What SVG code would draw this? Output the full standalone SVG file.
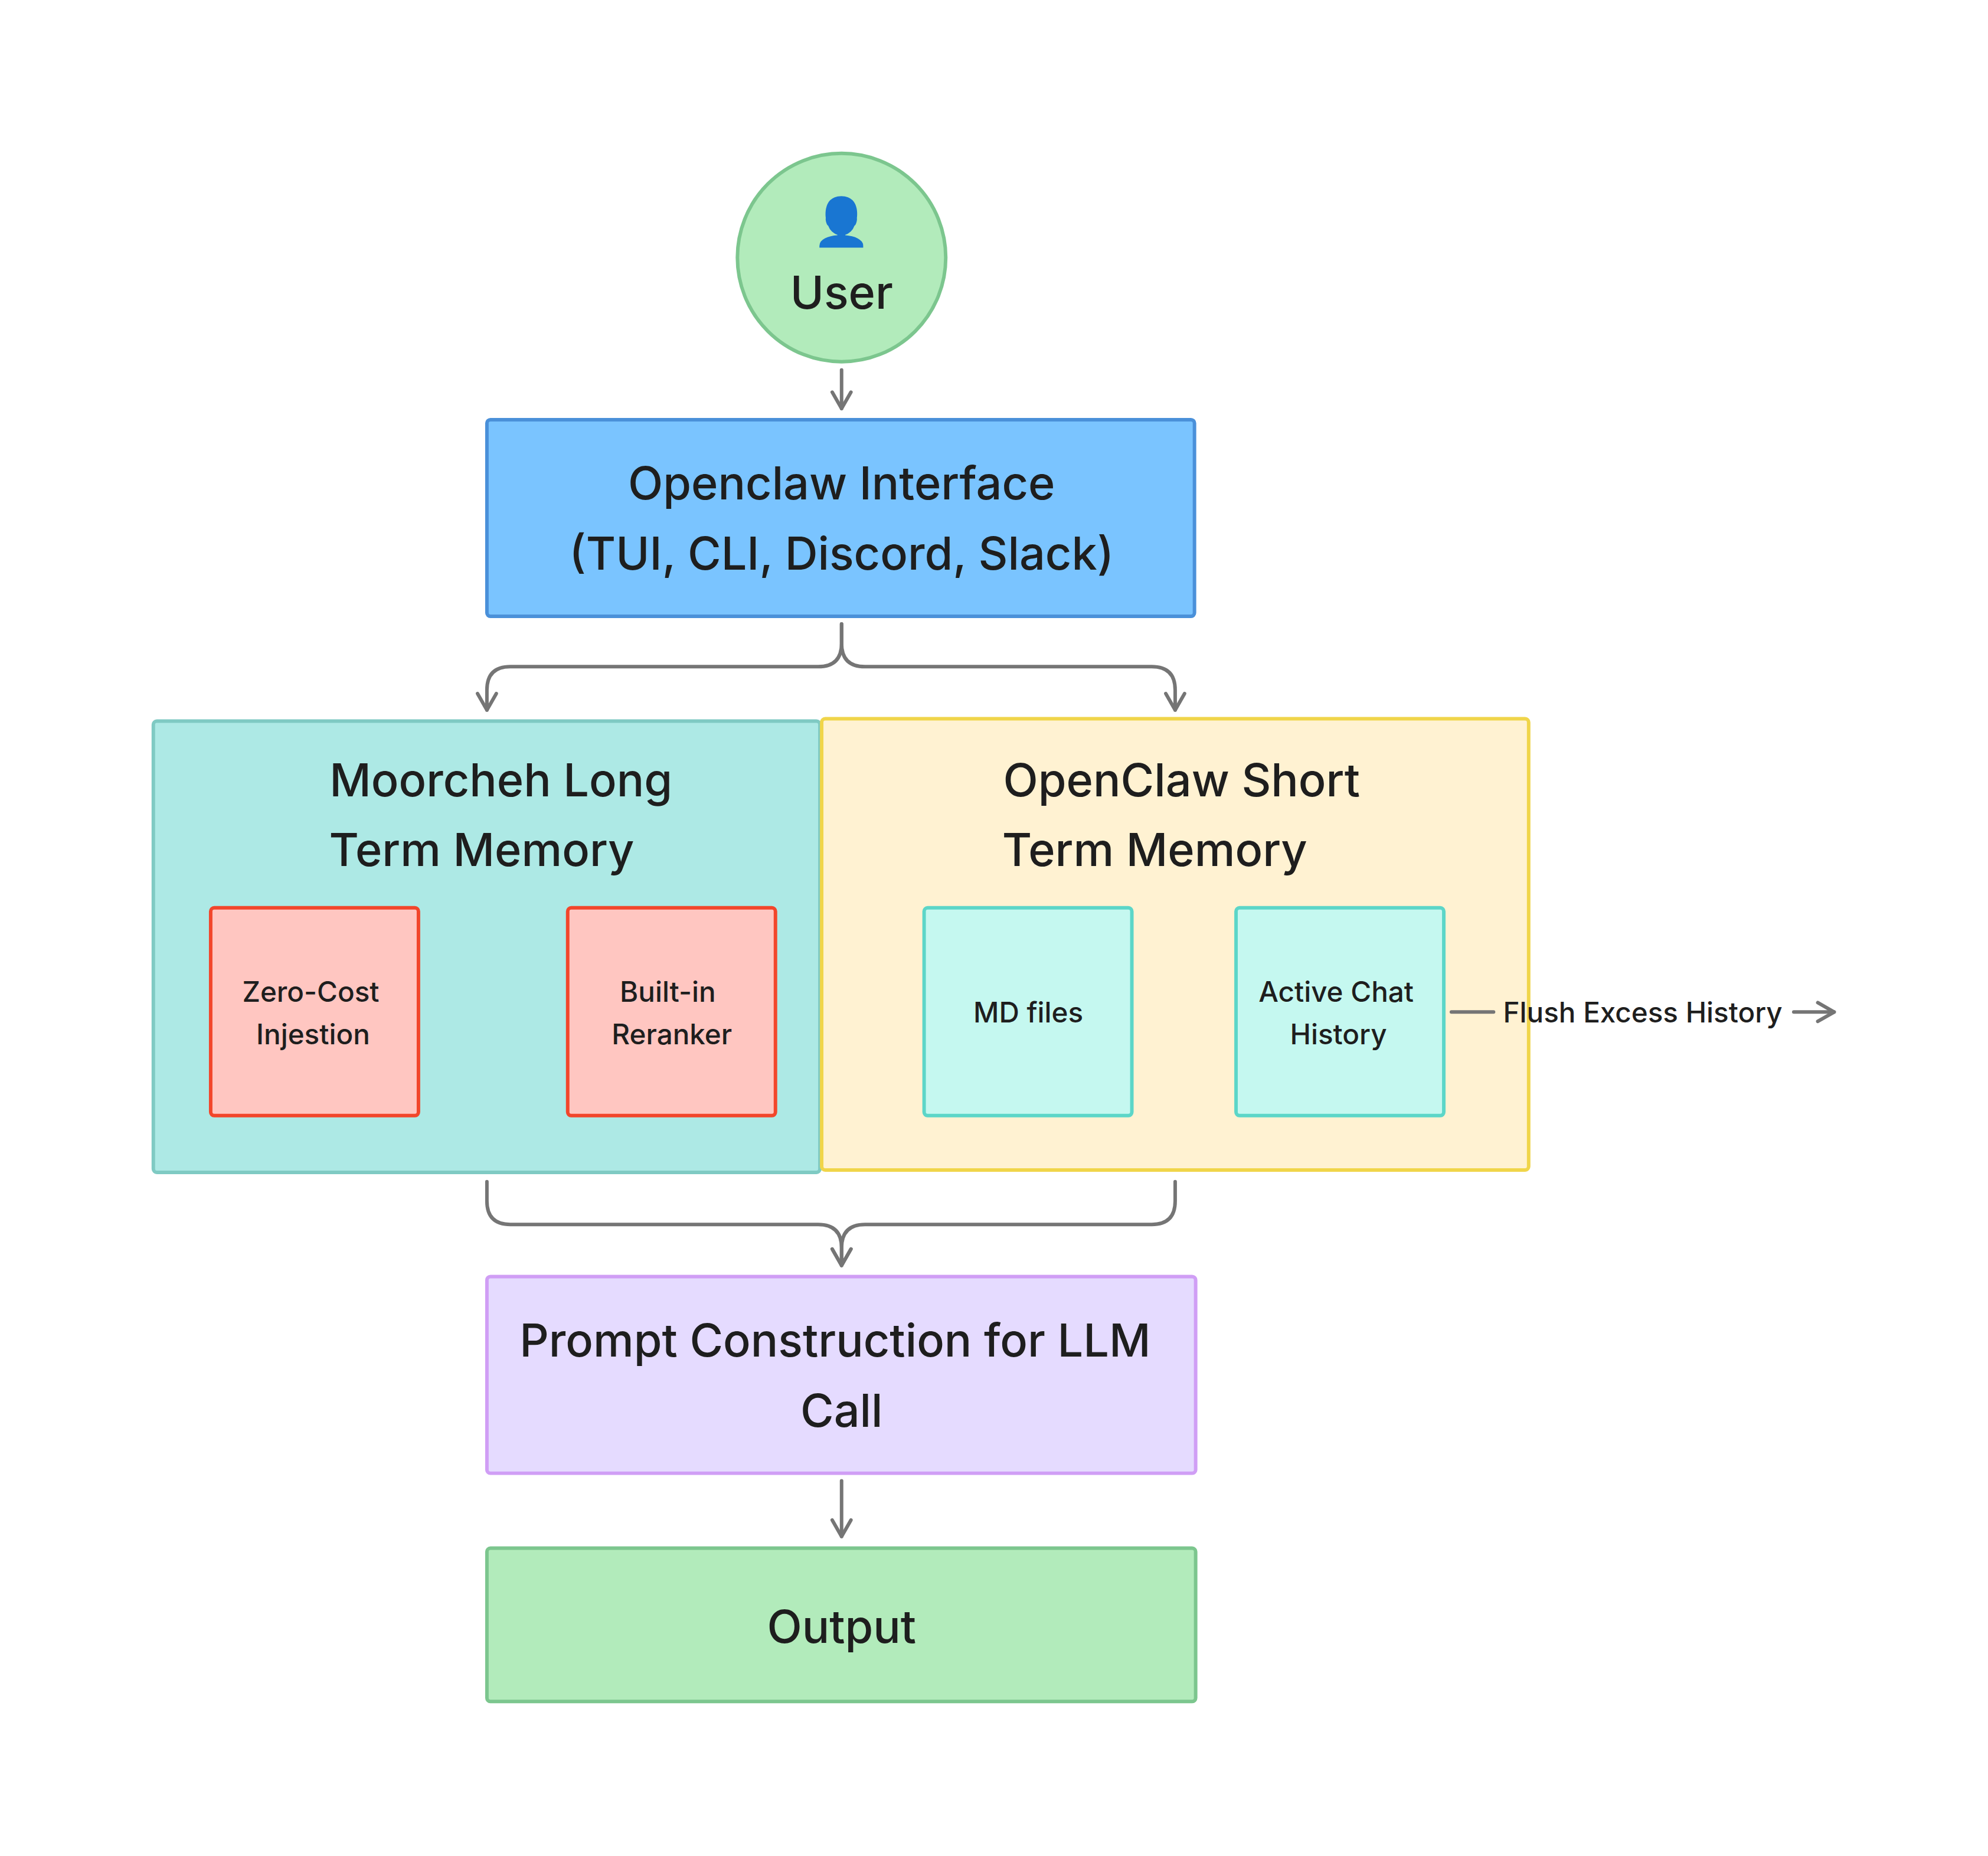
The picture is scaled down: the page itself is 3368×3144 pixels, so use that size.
<svg xmlns="http://www.w3.org/2000/svg" width="3368" height="3144" viewBox="0 0 3368 3144">
<defs>
<style>
.t{font-family:Inter,"Noto Sans",sans-serif;fill:#1e1e1e;text-anchor:middle;dominant-baseline:middle;font-weight:500}
.b{font-size:78px}.s{font-size:48px}
.c{fill:none;stroke:#757575;stroke-width:6;stroke-linecap:round;stroke-linejoin:round}
</style>
<marker id="a" viewBox="0 0 20 20" refX="18" refY="10" markerWidth="40" markerHeight="40" markerUnits="userSpaceOnUse" orient="auto"><path d="M4 2 L18 10 L4 18" fill="none" stroke="#757575" stroke-width="3" stroke-linecap="round" stroke-linejoin="round"/></marker>
</defs>
<rect width="3368" height="3144" fill="#fff"/>
<g transform="scale(0.9915)">
<g id="user"><circle cx="1438" cy="440" r="178" fill="#b2ebbb" stroke="#7cc68e" stroke-width="6"/><text class="t" x="1438" y="386" font-size="80" style="font-family:'Noto Color Emoji',sans-serif">👤</text><text class="t b" x="1438" y="506">User</text></g>
<g id="interface"><rect x="832" y="717" width="1209" height="336" rx="6" fill="#7ac4ff" stroke="#4a90d9" stroke-width="6"/><text class="t b" x="1438" y="832">Openclaw Interface</text><text class="t b" x="1438" y="952">(TUI, CLI, Discord, Slack)</text></g>
<g id="longterm"><rect x="262" y="1232" width="1139" height="771" rx="6" fill="#ade9e5" stroke="#7fcac3" stroke-width="6"/><text class="t b" x="856" y="1339">Moorcheh Long</text><text class="t b" x="823" y="1458">Term Memory</text></g>
<g id="shortterm"><rect x="1404" y="1228" width="1208" height="771" rx="6" fill="#fff2d2" stroke="#f0d54a" stroke-width="6"/><text class="t b" x="2019" y="1339">OpenClaw Short</text><text class="t b" x="1973" y="1458">Term Memory</text></g>
<g id="zerocost"><rect x="360" y="1551" width="355" height="355" rx="6" fill="#ffc6c1" stroke="#f2462b" stroke-width="6"/><text class="t s" x="531" y="1698">Zero-Cost</text><text class="t s" x="535" y="1771">Injestion</text></g>
<g id="reranker"><rect x="970" y="1551" width="355" height="355" rx="6" fill="#ffc6c1" stroke="#f2462b" stroke-width="6"/><text class="t s" x="1141" y="1698">Built-in</text><text class="t s" x="1148" y="1771">Reranker</text></g>
<g id="mdfiles"><rect x="1579" y="1551" width="355" height="355" rx="6" fill="#c5f8f0" stroke="#5cd6c8" stroke-width="6"/><text class="t s" x="1757" y="1734">MD files</text></g>
<g id="chat"><rect x="2112" y="1551" width="355" height="355" rx="6" fill="#c5f8f0" stroke="#5cd6c8" stroke-width="6"/><text class="t s" x="2283" y="1698">Active Chat</text><text class="t s" x="2287" y="1771">History</text></g>
<g id="prompt"><rect x="832" y="2181" width="1211" height="336" rx="6" fill="#e5dbff" stroke="#d09ef5" stroke-width="6"/><text class="t b" x="1427" y="2296">Prompt Construction for LLM</text><text class="t b" x="1438" y="2416">Call</text></g>
<g id="output"><rect x="832" y="2645" width="1211" height="262" rx="6" fill="#b2ebbb" stroke="#7cc68e" stroke-width="6"/><text class="t b" x="1438" y="2786">Output</text></g>
<g id="connectors">
<path class="c" d="M1438 632 V698" marker-end="url(#a)"/>
<path class="c" d="M1438 1066 V1099 Q1438 1139 1398 1139 H872 Q832 1139 832 1179 V1213" marker-end="url(#a)"/>
<path class="c" d="M1438 1066 V1099 Q1438 1139 1478 1139 H1968 Q2008 1139 2008 1179 V1213" marker-end="url(#a)"/>
<path class="c" d="M832 2019 V2052 Q832 2092 872 2092 H1398 Q1438 2092 1438 2132 V2162" marker-end="url(#a)"/>
<path class="c" d="M2008 2019 V2052 Q2008 2092 1968 2092 H1478 Q1438 2092 1438 2132 V2162" marker-end="url(#a)"/>
<path class="c" d="M1438 2530 V2625" marker-end="url(#a)"/>
<path class="c" d="M2480 1729 H2552"/>
<path class="c" d="M3065 1729 H3134" marker-end="url(#a)"/>
<text class="t s" x="2807" y="1734">Flush Excess History</text>
</g>
</g>
</svg>
